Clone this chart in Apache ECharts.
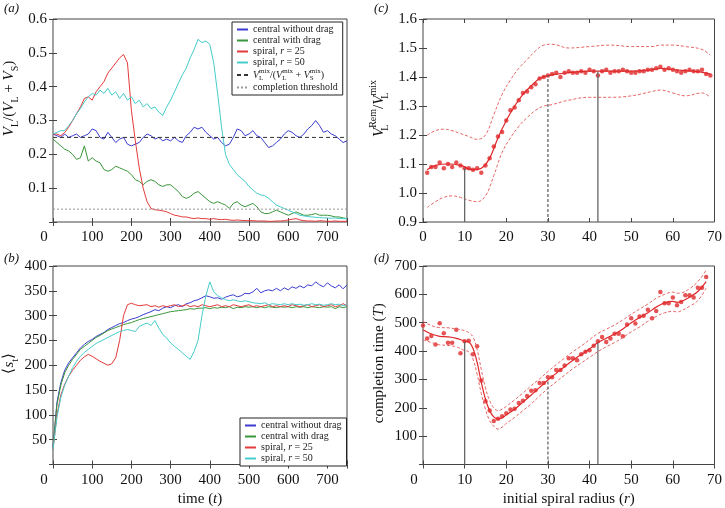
<!DOCTYPE html>
<html>
<head>
<meta charset="utf-8">
<script src="https://cdn.jsdelivr.net/npm/echarts@6/dist/echarts.min.js"></script>
<style>
html, body { margin: 0; padding: 0; background: #fff; }
#chart { width: 725px; height: 508px; }
</style>
</head>
<body>
<div id="chart"></div>
<script>
// time samples for panels (a) and (b): every 10 steps, 0..750
const timeStep = 10
const timeMax = 750

// (a) V_L / (V_L + V_S)
const aCentralNoDrag = [
  0.26, 0.255, 0.25, 0.26, 0.25, 0.255, 0.26, 0.25, 0.255, 0.26,
  0.275, 0.27, 0.25, 0.245, 0.265, 0.25, 0.235, 0.245, 0.25, 0.23,
  0.225, 0.23, 0.235, 0.25, 0.26, 0.255, 0.245, 0.25, 0.24, 0.245,
  0.24, 0.25, 0.24, 0.235, 0.255, 0.265, 0.28, 0.275, 0.28, 0.265,
  0.255, 0.245, 0.25, 0.235, 0.225, 0.23, 0.25, 0.275, 0.27, 0.255,
  0.26, 0.27, 0.255, 0.25, 0.235, 0.22, 0.225, 0.235, 0.245, 0.26,
  0.27, 0.265, 0.255, 0.25, 0.26, 0.275, 0.285, 0.30, 0.285, 0.265,
  0.27, 0.26, 0.255, 0.245, 0.235, 0.24
]
const aCentralDrag = [
  0.245, 0.235, 0.225, 0.215, 0.21, 0.2, 0.185, 0.19, 0.225, 0.18,
  0.19, 0.18, 0.175, 0.155, 0.15, 0.155, 0.165, 0.16, 0.155, 0.15,
  0.14, 0.125, 0.12, 0.11, 0.12, 0.125, 0.12, 0.11, 0.105, 0.11,
  0.11, 0.1, 0.09, 0.075, 0.07, 0.075, 0.085, 0.09, 0.08, 0.07,
  0.06, 0.055, 0.06, 0.055, 0.05, 0.04, 0.055, 0.06, 0.05, 0.045,
  0.05, 0.055, 0.045, 0.03, 0.025, 0.025, 0.03, 0.035, 0.03, 0.025,
  0.02, 0.025, 0.03, 0.025, 0.02, 0.02, 0.022, 0.025, 0.02, 0.02,
  0.02, 0.018, 0.015, 0.015, 0.012, 0.01
]
const aSpiral25 = [
  0.26, 0.26, 0.255, 0.265, 0.28, 0.3, 0.32, 0.34, 0.365, 0.37,
  0.36, 0.385, 0.4, 0.415, 0.44, 0.455, 0.47, 0.485, 0.495, 0.47,
  0.33, 0.24, 0.16, 0.1, 0.06, 0.04, 0.036, 0.035, 0.033, 0.03,
  0.025, 0.02, 0.018, 0.015, 0.015, 0.012, 0.01, 0.012, 0.01, 0.01,
  0.008, 0.01, 0.008, 0.007, 0.008, 0.006, 0.005, 0.006, 0.005, 0.004,
  0.004, 0.004, 0.003, 0.003, 0.003, 0.002, 0.002, 0.003, 0.003, 0.004,
  0.006, 0.008, 0.01, 0.006, 0.004, 0.003, 0.003, 0.002, 0.004, 0.003,
  0.002, 0.002, 0.003, 0.002, 0.002, 0.002
]
const aSpiral50 = [
  0.26, 0.265, 0.27, 0.27, 0.285, 0.3, 0.32, 0.335, 0.355, 0.37,
  0.38, 0.375, 0.39, 0.38, 0.395, 0.375, 0.385, 0.365, 0.38, 0.36,
  0.37, 0.35, 0.36, 0.34, 0.35, 0.335, 0.34, 0.325, 0.315, 0.34,
  0.36, 0.385, 0.41, 0.435, 0.455, 0.485, 0.51, 0.54, 0.53, 0.535,
  0.525, 0.47, 0.38, 0.28, 0.2, 0.17, 0.155, 0.14, 0.13, 0.12,
  0.105, 0.095, 0.085, 0.08, 0.078, 0.07, 0.06, 0.05, 0.045, 0.04,
  0.035, 0.03, 0.025, 0.02, 0.018, 0.016, 0.015, 0.014, 0.013, 0.012,
  0.012, 0.011, 0.012, 0.01, 0.01, 0.01
]
const mixLevel = 0.25
const completionThreshold = 0.038

// (b) mean size <s_t>
const bCentralNoDrag = [
  35, 125, 165, 190, 205, 215, 225, 235, 242, 248,
  252, 258, 262, 266, 272, 276, 280, 284, 286, 290,
  293, 295, 298, 302, 305, 308, 312, 310, 315, 318,
  316, 320, 322, 318, 324, 326, 330, 332, 336, 340,
  338, 335, 336, 333, 337, 340, 342, 338, 340, 345,
  344, 348, 355, 346, 350, 352, 350, 355, 350, 356,
  352, 358, 355, 360, 356, 362, 360, 368, 362, 358,
  366, 360, 356, 362, 354, 362
]
const bCentralDrag = [
  35, 120, 160, 185, 200, 212, 222, 232, 238, 244,
  250, 256, 260, 265, 270, 273, 276, 279, 282, 284,
  286, 289, 292, 294, 296, 298, 300, 302, 304, 306,
  308, 309, 310, 311, 312, 314, 313, 315, 315, 316,
  314, 316, 315, 317, 316, 318, 314, 317, 316, 318,
  317, 318, 316, 318, 316, 318, 317, 316, 318, 317,
  318, 316, 318, 317, 318, 316, 318, 317, 316, 318,
  317, 318, 314, 318, 316, 318
]
const bSpiral25 = [
  30, 100, 140, 162, 178, 190, 200, 210, 217, 222,
  218, 213, 208, 204, 200, 203, 215, 250, 300, 322,
  325, 322, 320, 321, 322, 318, 320, 317, 320, 318,
  320, 322, 318, 320, 322, 318, 320, 318, 322, 320,
  318, 320, 322, 318, 320, 318, 322, 320, 318, 320,
  322, 318, 320, 318, 320, 322, 318, 320, 318, 320,
  318, 322, 320, 318, 320, 322, 318, 320, 322, 318,
  320, 322, 318, 320, 324, 320
]
const bSpiral50 = [
  30, 95, 135, 160, 178, 195, 208, 218, 226, 232,
  238, 244, 248, 252, 256, 260, 264, 268, 270, 272,
  270, 268, 278, 282, 285, 280, 290, 275, 262, 255,
  245, 238, 232, 225, 218, 212, 228, 250, 300, 340,
  368, 348, 340, 336, 332, 330, 332, 330, 328, 330,
  328, 326, 325, 324, 326, 322, 324, 323, 322, 324,
  322, 324, 322, 323, 321, 322, 324, 322, 323, 321,
  322, 324, 322, 323, 320, 322
]

// (c) V_L^Rem / V_L^mix against initial radius r = 1..69
const cPoints = [
  1.07, 1.09, 1.09, 1.105, 1.085, 1.10, 1.09, 1.105, 1.095, 1.085,
  1.085, 1.08, 1.085, 1.07, 1.095, 1.12, 1.16, 1.195, 1.21, 1.25,
  1.285, 1.295, 1.32, 1.345, 1.35, 1.365, 1.375, 1.395, 1.40, 1.405,
  1.41, 1.415, 1.40, 1.415, 1.42, 1.415, 1.415, 1.42, 1.415, 1.425,
  1.42, 1.405, 1.42, 1.425, 1.415, 1.42, 1.42, 1.425, 1.42, 1.415,
  1.415, 1.42, 1.42, 1.425, 1.425, 1.43, 1.435, 1.425, 1.43, 1.425,
  1.42, 1.415, 1.42, 1.425, 1.42, 1.42, 1.425, 1.41, 1.405
]
const cFitR = [1, 3, 6, 9, 12, 14, 16, 18, 20, 22, 24, 26, 28, 30, 35, 40, 45, 50, 55, 57, 60, 65, 69]
const cFit = [1.08, 1.095, 1.10, 1.095, 1.08, 1.085, 1.12, 1.19, 1.25, 1.30, 1.34, 1.37, 1.395, 1.405, 1.415, 1.42, 1.42, 1.42, 1.425, 1.43, 1.425, 1.42, 1.41]
const cBandR = [1, 3, 5, 7, 9, 11, 13, 15, 17, 19, 21, 23, 25, 27, 29, 31, 35, 40, 45, 50, 55, 57, 60, 63, 67, 69]
const cUpper = [1.20, 1.215, 1.22, 1.215, 1.205, 1.195, 1.185, 1.20, 1.27, 1.34, 1.39, 1.43, 1.46, 1.49, 1.51, 1.513, 1.50, 1.505, 1.51, 1.505, 1.505, 1.51, 1.51, 1.505, 1.495, 1.475]
const cLower = [0.95, 0.97, 0.985, 0.99, 0.985, 0.975, 0.97, 0.99, 1.06, 1.14, 1.19, 1.23, 1.26, 1.285, 1.30, 1.305, 1.32, 1.33, 1.33, 1.335, 1.35, 1.355, 1.345, 1.335, 1.345, 1.33]
const markR = [10, 30, 42]
const cMarkTop = [1.085, 1.405, 1.42]

// (d) completion time T against initial radius r = 0..68
const dPoints = [
  490, 444, 453, 423, 498, 463, 429, 429, 475, 392,
  435, 436, 389, 417, 296, 223, 190, 153, 161, 170,
  181, 194, 197, 217, 225, 242, 260, 262, 287, 287,
  308, 308, 333, 333, 349, 375, 375, 368, 389, 398,
  403, 419, 435, 450, 432, 444, 461, 461, 452, 494,
  516, 497, 522, 525, 546, 516, 541, 608, 569, 569,
  589, 562, 573, 597, 597, 589, 623, 623, 661
]
const dCurveR = [0, 2, 4, 6, 8, 10, 11, 12, 13, 14, 15, 16, 17, 18, 19, 20, 22, 24, 26, 28, 30, 32, 34, 36, 38, 40, 42, 44, 46, 48, 50, 52, 54, 56, 58, 60, 61, 62, 64, 66, 68]
const dFit = [475, 460, 452, 450, 445, 435, 432, 410, 360, 290, 230, 190, 168, 160, 165, 175, 195, 220, 245, 272, 298, 322, 345, 368, 388, 408, 430, 445, 460, 478, 500, 518, 535, 555, 570, 575, 572, 575, 590, 610, 645]
const dUpper = [505, 490, 483, 482, 478, 472, 465, 450, 405, 335, 270, 225, 200, 190, 195, 205, 228, 252, 278, 302, 328, 352, 375, 398, 418, 440, 462, 477, 492, 510, 530, 548, 566, 586, 600, 608, 604, 605, 620, 645, 685]
const dLower = [440, 430, 422, 420, 415, 402, 397, 372, 318, 250, 195, 155, 135, 125, 132, 145, 166, 190, 214, 242, 268, 292, 315, 338, 358, 378, 398, 415, 430, 448, 468, 485, 505, 522, 535, 540, 538, 542, 558, 578, 622]
const dMarkTop = [432, 300, 430]

const seriesNames = ['central without drag', 'central with drag', 'spiral, r = 25', 'spiral, r = 50']
const seriesColors = ['#3b3bd0', '#3a963a', '#e43a3a', '#45cccc']

const FONT = 'Liberation Serif'
const ink = '#111'
const frame = '#444'
const red = '#e0282a'
const redLight = '#e86464'

const pair = (xs, ys) => ys.map((v, i) => [xs[i], v])
const timed = ys => ys.map((v, i) => [i * timeStep, v])

const richBase = {
  n: { fontFamily: FONT, fontSize: 15, color: ink, lineHeight: 22, verticalAlign: 'middle' },
  i: { fontFamily: FONT, fontSize: 15, color: ink, fontStyle: 'italic', lineHeight: 22, verticalAlign: 'middle' },
  sb: { fontFamily: FONT, fontSize: 10, color: ink, lineHeight: 10, verticalAlign: 'bottom' },
  sb0: { fontFamily: FONT, fontSize: 10, color: ink, lineHeight: 10, verticalAlign: 'bottom', width: 0 },
  sp: { fontFamily: FONT, fontSize: 10, color: ink, lineHeight: 10, verticalAlign: 'top' },
  z: { fontFamily: FONT, fontSize: 15, color: ink, padding: [0, 18, 0, 0] }
}
const richSmall = {
  t: { fontFamily: FONT, fontSize: 10, color: '#222', lineHeight: 11, verticalAlign: 'middle' },
  ti: { fontFamily: FONT, fontSize: 10, color: '#222', fontStyle: 'italic', lineHeight: 11, verticalAlign: 'middle' },
  n: { fontFamily: FONT, fontSize: 10, color: '#222', lineHeight: 14, verticalAlign: 'middle' },
  i: { fontFamily: FONT, fontSize: 10, color: '#222', fontStyle: 'italic', lineHeight: 14, verticalAlign: 'middle' },
  sb0: { fontFamily: FONT, fontSize: 7, color: '#222', lineHeight: 7, verticalAlign: 'bottom', width: 0 },
  sp: { fontFamily: FONT, fontSize: 7, color: '#222', lineHeight: 7, verticalAlign: 'top' }
}

const legendText = {
  'central without drag': '{t|central without drag}',
  'central with drag': '{t|central with drag}',
  'spiral, r = 25': '{t|spiral, }{ti|r}{t| = 25}',
  'spiral, r = 50': '{t|spiral, }{ti|r}{t| = 50}',
  'mix': '{i|V}{sb0|L}{sp|mix}{n|/(}{i|V}{sb0|L}{sp|mix}{n| + }{i|V}{sb0|S}{sp|mix}{n|)}',
  'threshold': '{t|completion threshold}'
}

const xLabel = (step, zeroShift) => ({
  color: ink, fontFamily: FONT, fontSize: 15, margin: 8,
  formatter: v => (v === 0 && zeroShift) ? '{z|0}' : (v % step === 0 ? String(v) : ''),
  rich: richBase
})
const yLabel = (digits, hideMin, min) => ({
  color: ink, fontFamily: FONT, fontSize: 15, margin: 6,
  formatter: v => (hideMin && Math.abs(v - min) < 1e-9) ? '' : v.toFixed(digits)
})
const tick = { inside: true, length: 4, lineStyle: { color: frame } }

function xAxes(g, max, interval, step, zeroShift, name) {
  const base = { type: 'value', gridIndex: g, min: 0, max: max, interval: interval, axisLine: { show: false }, splitLine: { show: false } }
  return [
    Object.assign({}, base, {
      axisTick: tick, axisLabel: xLabel(step, zeroShift),
      name: name || '', nameLocation: 'middle', nameGap: 24,
      nameTextStyle: { rich: richBase }
    }),
    Object.assign({}, base, { position: 'top', axisTick: tick, axisLabel: { show: false } })
  ]
}
function yAxes(g, min, max, interval, digits, hideMin, name, gap, lift) {
  const base = { type: 'value', gridIndex: g, min: min, max: max, interval: interval, axisLine: { show: false }, splitLine: { show: false } }
  return [
    Object.assign({}, base, {
      axisTick: tick, axisLabel: yLabel(digits, hideMin, min),
      name: name, nameLocation: 'middle', nameRotate: 90, nameGap: gap,
      nameTextStyle: { rich: richBase, padding: [0, 0, 0, lift] }
    }),
    Object.assign({}, base, { position: 'right', axisTick: tick, axisLabel: { show: false } })
  ]
}

const ax0 = xAxes(0, timeMax, 100, 100, true)
const ax1 = xAxes(1, timeMax, 100, 100, true, '{n|time (}{i|t}{n|)}')
const ax2 = xAxes(2, 70, 10, 10, false)
const ax3 = xAxes(3, 70, 10, 10, true, '{n|initial spiral radius (}{i|r}{n|)}')
const ay0 = yAxes(0, 0, 0.6, 0.1, 1, true, '{i|V}{sb|L}{n|/(}{i|V}{sb|L}{n| + }{i|V}{sb|S}{n|)}', 33, 44)
const ay1 = yAxes(1, 0, 400, 50, 0, true, '{n|⟨}{i|s}{sb|t}{n|⟩}', 33, 4)
const ay2 = yAxes(2, 0.9, 1.6, 0.1, 1, false, '{i|V}{sb0|L}{sp|Rem}{n|/}{i|V}{sb0|L}{sp|mix}', 33, 24)
const ay3 = yAxes(3, 0, 700, 100, 0, true, '{n|completion time (}{i|T}{n|)}', 33, 4)

const xAxis = [ax0[0], ax1[0], ax2[0], ax3[0], ax0[1], ax1[1], ax2[1], ax3[1]]
const yAxis = [ay0[0], ay1[0], ay2[0], ay3[0], ay0[1], ay1[1], ay2[1], ay3[1]]

const line = (g, name, color, data, extra) => Object.assign({
  type: 'line', name: name, xAxisIndex: g, yAxisIndex: g, data: data,
  symbol: 'none', silent: true, animation: false,
  lineStyle: { color: color, width: 1 }, itemStyle: { color: color }
}, extra || {})

const series = []
const aSets = [aCentralNoDrag, aCentralDrag, aSpiral25, aSpiral50]
const bSets = [bCentralNoDrag, bCentralDrag, bSpiral25, bSpiral50]
aSets.forEach((s, k) => series.push(line(0, seriesNames[k], seriesColors[k], timed(s))))
series.push(line(0, 'mix', '#333', [[0, mixLevel], [timeMax, mixLevel]], { lineStyle: { color: '#333', width: 1, type: [4, 3] } }))
series.push(line(0, 'threshold', '#999', [[0, completionThreshold], [timeMax, completionThreshold]], { lineStyle: { color: '#999', width: 1, type: [2, 2] } }))
bSets.forEach((s, k) => series.push(line(1, seriesNames[k], seriesColors[k], timed(s))))

function radiusPanel(g, points, r0, fitR, fit, bandR, upper, lower, markTop, yMin) {
  series.push(line(g, 'fit' + g, red, pair(fitR, fit), { smooth: 0.4, lineStyle: { color: red, width: 1.2 } }))
  series.push(line(g, 'up' + g, redLight, pair(bandR, upper), { smooth: 0.4, lineStyle: { color: redLight, width: 1, type: [3, 2] } }))
  series.push(line(g, 'lo' + g, redLight, pair(bandR, lower), { smooth: 0.4, lineStyle: { color: redLight, width: 1, type: [3, 2] } }))
  markR.forEach((r, k) => series.push(line(g, 'mark' + g + k, '#666',
    [[r, yMin], [r, markTop[k]]],
    { lineStyle: { color: '#666', width: 1.3, type: k === 1 ? [3, 2] : 'solid' } })))
  series.push({
    type: 'scatter', name: 'pts' + g, xAxisIndex: g, yAxisIndex: g, silent: true, animation: false,
    data: points.map((v, i) => [i + r0, v]), symbolSize: 4.5, itemStyle: { color: red }
  })
}
radiusPanel(2, cPoints, 1, cFitR, cFit, cBandR, cUpper, cLower, cMarkTop, 0.9)
radiusPanel(3, dPoints, 0, dCurveR, dFit, dCurveR, dUpper, dLower, dMarkTop, 0)

const legendBase = {
  orient: 'vertical', itemWidth: 11, itemHeight: 6, itemGap: 0,
  padding: [2, 5, 2, 4], borderColor: '#222', borderWidth: 1, borderRadius: 0,
  backgroundColor: '#fff', selectedMode: false,
  itemStyle: { opacity: 0 },
  textStyle: { fontFamily: FONT, fontSize: 10, color: '#222', lineHeight: 11, rich: richSmall },
  formatter: name => legendText[name] || name
}

const panelLabel = (x, y, letter) => ({
  type: 'text', left: x, top: y, silent: true,
  style: { text: '(' + letter + ')', fontFamily: FONT, fontSize: 13, fontStyle: 'italic', fill: ink }
})

const chart = echarts.init(document.getElementById('chart'), null, { renderer: 'canvas' })
chart.setOption({
  animation: false,
  backgroundColor: '#fff',
  grid: [
    { left: 53, top: 19, width: 294, height: 203, show: true, borderColor: frame, borderWidth: 1 },
    { left: 53, top: 266, width: 294, height: 202, show: true, borderColor: frame, borderWidth: 1 },
    { left: 423, top: 19, width: 295, height: 203, show: true, borderColor: frame, borderWidth: 1 },
    { left: 423, top: 266, width: 295, height: 202, show: true, borderColor: frame, borderWidth: 1 }
  ],
  xAxis: xAxis,
  yAxis: yAxis,
  legend: [
    Object.assign({}, legendBase, { left: 232, top: 22, data: seriesNames.concat(['mix', 'threshold']) }),
    Object.assign({}, legendBase, { left: 240, top: 418, data: seriesNames.slice() })
  ],
  graphic: [
    panelLabel(4, 2, 'a'),
    panelLabel(4, 252, 'b'),
    panelLabel(374, 2, 'c'),
    panelLabel(374, 252, 'd')
  ],
  series: series
})
</script>
</body>
</html>
